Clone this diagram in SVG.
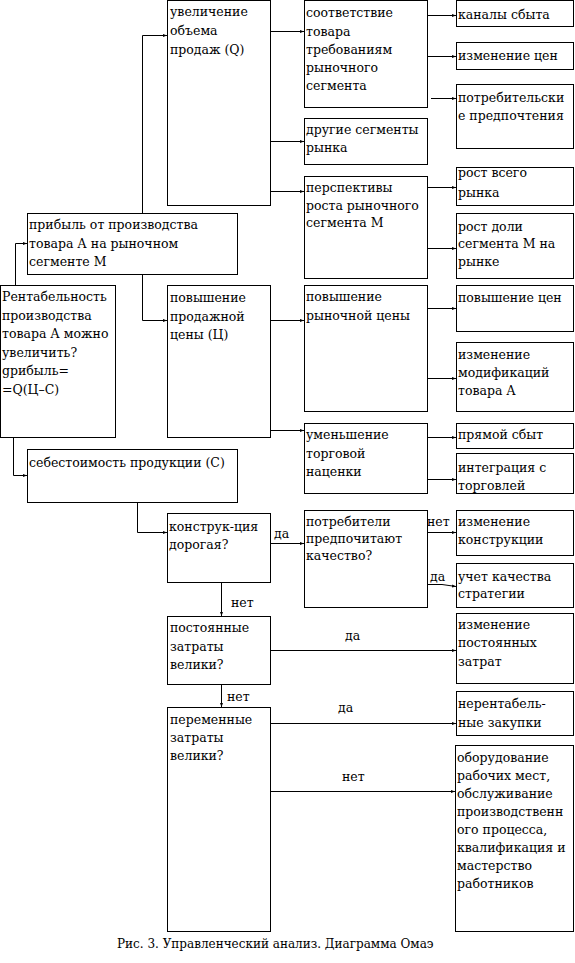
<svg xmlns="http://www.w3.org/2000/svg" width="575" height="963" viewBox="0 0 575 963">
<style>
rect{fill:#fff;stroke:#000;stroke-width:1}
text{font-family:"DejaVu Serif",serif;font-size:12.5px;fill:#000}
.cap{font-size:12px}
.c{fill:none;stroke:#000;stroke-width:1}
.a{marker-end:url(#ah)}
</style>
<defs>
<marker id="ah" viewBox="0 0 4 4" refX="4" refY="2" markerWidth="4" markerHeight="4" markerUnits="userSpaceOnUse" orient="auto">
<path d="M0,0.5 L4,2 L0,3.5 Z" fill="#000"/>
</marker>
</defs>
<rect x="0" y="0" width="575" height="963" style="stroke:none"/>
<g id="connectors">
<path class="c a" d="M15.5,285 V243.5 H27"/>
<path class="c a" d="M142.5,213 V35.5 H167"/>
<path class="c a" d="M142.5,274 V320.5 H167"/>
<path class="c a" d="M13.5,437 V475.5 H27"/>
<path class="c a" d="M137.5,502 V532.5 H167"/>
<path class="c a" d="M270,31.5 H304"/>
<path class="c a" d="M270,141.5 H304"/>
<path class="c a" d="M270,191.5 H304"/>
<path class="c a" d="M427,15.5 H456"/>
<path class="c a" d="M427,56.5 H456"/>
<path class="c a" d="M431,98.5 H456"/>
<path class="c a" d="M427,187.5 H456"/>
<path class="c a" d="M427,248.5 H456"/>
<path class="c a" d="M270,320.5 H304"/>
<path class="c a" d="M270,430.5 H304"/>
<path class="c a" d="M427,308.5 H456"/>
<path class="c a" d="M427,378.5 H456"/>
<path class="c a" d="M427,437.5 H456"/>
<path class="c a" d="M427,479.5 H456"/>
<path class="c a" d="M270,543.5 H304"/>
<path class="c a" d="M427,532.5 H456"/>
<path class="c a" d="M427,584.5 H442 L456,586.5"/>
<path class="c a" d="M221.5,582 V616"/>
<path class="c a" d="M221.5,684 V707"/>
<path class="c a" d="M270,650.5 H456"/>
<path class="c a" d="M270,723.5 H456"/>
<path class="c a" d="M270,791.5 H455"/>
<text x="274" y="538">да</text>
<text x="231" y="607">нет</text>
<text x="227" y="701">нет</text>
<text x="427" y="526">нет</text>
<text x="430" y="581">да</text>
<text x="345" y="640">да</text>
<text x="338" y="712">да</text>
<text x="342" y="781">нет</text>
</g>
<g id="qvol"><rect x="167.5" y="0.5" width="103" height="205"/>
<text x="170" y="16">увеличение</text><text x="170" y="35">объема</text><text x="170" y="54">продаж (Q)</text></g>
<g id="profit"><rect x="27.5" y="213.5" width="210" height="61"/>
<text x="29" y="229">прибыль от производства</text><text x="29" y="248">товара А на рыночном</text><text x="29" y="266">сегменте М</text></g>
<g id="rent"><rect x="0.5" y="285.5" width="115" height="152"/>
<text x="2" y="301">Рентабельность</text><text x="2" y="320">производства</text><text x="2" y="338">товара А можно</text><text x="2" y="357">увеличить?</text><text x="2" y="375">gрибыль=</text><text x="2" y="394">=Q(Ц–С)</text></g>
<g id="price"><rect x="167.5" y="285.5" width="103" height="152"/>
<text x="170" y="302">повышение</text><text x="170" y="321">продажной</text><text x="170" y="339">цены (Ц)</text></g>
<g id="cost"><rect x="27.5" y="449.5" width="210" height="53"/>
<text x="29" y="467">себестоимость продукции (С)</text></g>
<g id="constr"><rect x="167.5" y="513.5" width="103" height="69"/>
<text x="169" y="531">конструк-ция</text><text x="169" y="549">дорогая?</text></g>
<g id="fixed"><rect x="167.5" y="616.5" width="103" height="68"/>
<text x="170" y="632">постоянные</text><text x="170" y="651">затраты</text><text x="170" y="669">велики?</text></g>
<g id="variable"><rect x="167.5" y="707.5" width="103" height="224"/>
<text x="170" y="724">переменные</text><text x="170" y="742">затраты</text><text x="170" y="760">велики?</text></g>
<g id="match"><rect x="304.5" y="0.5" width="123" height="107"/>
<text x="306" y="17">соответствие</text><text x="306" y="36">товара</text><text x="306" y="54">требованиям</text><text x="306" y="72">рыночного</text><text x="306" y="90">сегмента</text></g>
<g id="other"><rect x="304.5" y="118.5" width="123" height="46"/>
<text x="306" y="134">другие сегменты</text><text x="306" y="152">рынка</text></g>
<g id="persp"><rect x="304.5" y="176.5" width="123" height="102"/>
<text x="306" y="192">перспективы</text><text x="306" y="210">роста рыночного</text><text x="306" y="227">сегмента М</text></g>
<g id="mprice"><rect x="304.5" y="285.5" width="123" height="126"/>
<text x="306" y="301">повышение</text><text x="306" y="320">рыночной цены</text></g>
<g id="margin"><rect x="304.5" y="423.5" width="123" height="70"/>
<text x="306" y="439">уменьшение</text><text x="306" y="458">торговой</text><text x="306" y="476">наценки</text></g>
<g id="consumers"><rect x="304.5" y="510.5" width="123" height="97"/>
<text x="306" y="526">потребители</text><text x="306" y="543">предпочитают</text><text x="306" y="560">качество?</text></g>
<g id="channels"><rect x="456.5" y="0.5" width="117" height="26"/>
<text x="458" y="19">каналы сбыта</text></g>
<g id="pricechg"><rect x="456.5" y="42.5" width="117" height="27"/>
<text x="458" y="60">изменение цен</text></g>
<g id="prefs"><rect x="456.5" y="84.5" width="117" height="64"/>
<text x="458" y="102">потребительски</text><text x="458" y="120">е предпочтения</text></g>
<g id="growth"><rect x="456.5" y="167.5" width="117" height="38"/>
<text x="458" y="177">рост всего</text><text x="458" y="197">рынка</text></g>
<g id="share"><rect x="456.5" y="213.5" width="117" height="65"/>
<text x="458" y="231">рост доли</text><text x="458" y="248">сегмента М на</text><text x="458" y="266">рынке</text></g>
<g id="raise"><rect x="456.5" y="285.5" width="117" height="46"/>
<text x="458" y="302">повышение цен</text></g>
<g id="modif"><rect x="456.5" y="342.5" width="117" height="69"/>
<text x="458" y="359">изменение</text><text x="458" y="377">модификаций</text><text x="458" y="395">товара А</text></g>
<g id="direct"><rect x="456.5" y="423.5" width="117" height="25"/>
<text x="458" y="439">прямой сбыт</text></g>
<g id="integr"><rect x="456.5" y="453.5" width="117" height="40"/>
<text x="458" y="472">интеграция с</text><text x="458" y="490">торговлей</text></g>
<g id="design"><rect x="456.5" y="510.5" width="117" height="45"/>
<text x="458" y="526">изменение</text><text x="458" y="544">конструкции</text></g>
<g id="quality"><rect x="456.5" y="563.5" width="117" height="44"/>
<text x="458" y="581">учет качества</text><text x="458" y="598">стратегии</text></g>
<g id="fixchg"><rect x="456.5" y="613.5" width="117" height="70"/>
<text x="458" y="629">изменение</text><text x="458" y="647">постоянных</text><text x="458" y="666">затрат</text></g>
<g id="unprof"><rect x="456.5" y="691.5" width="117" height="44"/>
<text x="458" y="708">нерентабель-</text><text x="458" y="727">ные закупки</text></g>
<g id="equip"><rect x="455.5" y="745.5" width="118" height="186"/>
<text x="457" y="762">оборудование</text><text x="457" y="780">рабочих мест,</text><text x="457" y="798">обслуживание</text><text x="457" y="816">производственн</text><text x="457" y="834">ого процесса,</text><text x="457" y="852">квалификация и</text><text x="457" y="870">мастерство</text><text x="457" y="888">работников</text></g>
<text class="cap" x="117" y="948">Рис. 3. Управленческий анализ. Диаграмма Омаэ</text>
</svg>
